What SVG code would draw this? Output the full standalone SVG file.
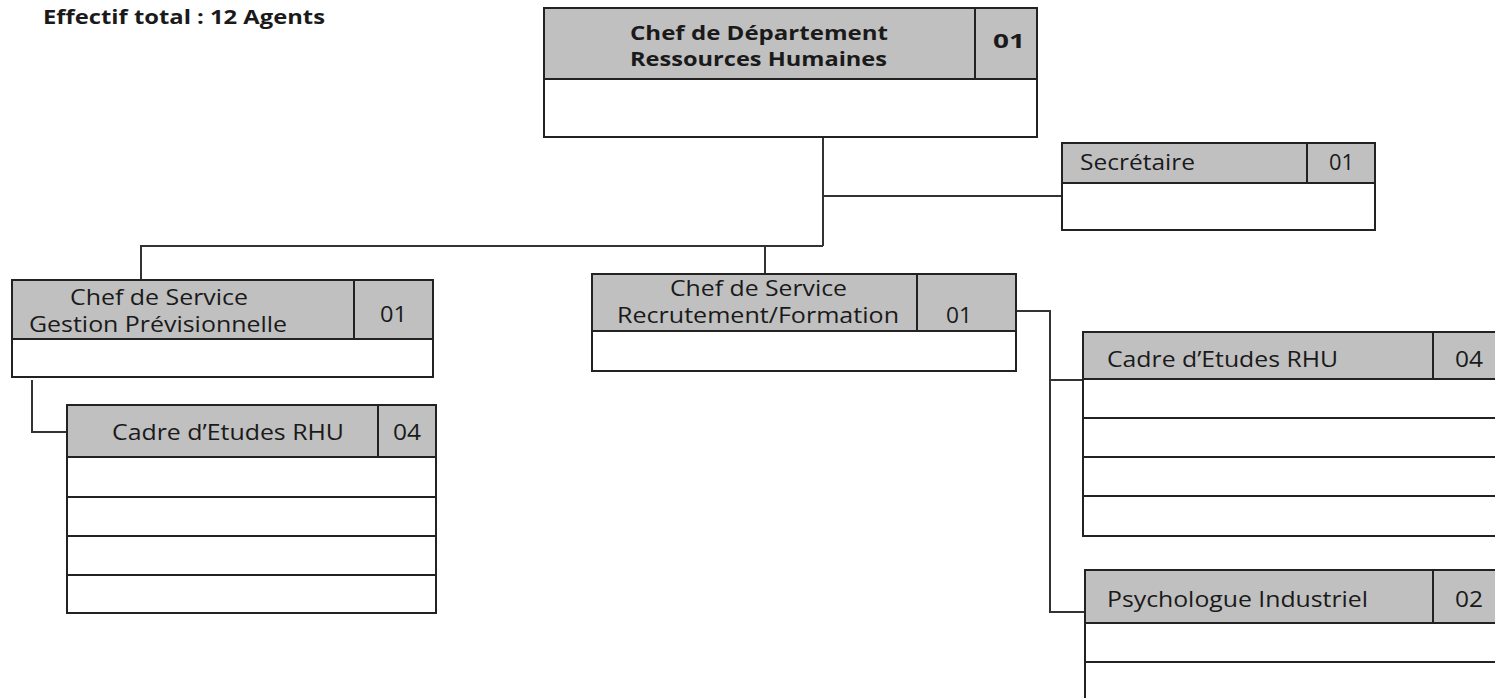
<svg xmlns="http://www.w3.org/2000/svg" width="1495" height="698" viewBox="0 0 1495 698">
  <style>
    .hd { fill: #c0c0c0; stroke: #222; stroke-width: 2; }
    .bx { fill: #ffffff; stroke: #222; stroke-width: 2; }
    .dv { stroke: #222; stroke-width: 2; }
    .cn { fill: none; stroke: #333; stroke-width: 2; }
    .t  { font-family: "Open Sans", "Liberation Sans", sans-serif; font-size: 21px; fill: #1a1a1a; }
    .tb { font-family: "Open Sans", "Liberation Sans", sans-serif; font-size: 20px; font-weight: bold; fill: #1a1a1a; }
    .n  { text-anchor: middle; }
  </style>
  <rect width="1495" height="698" fill="#ffffff"/>

  <text id="effectif" class="tb" x="43" y="24" font-size="17" textLength="282" lengthAdjust="spacingAndGlyphs">Effectif total : 12 Agents</text>

  <g id="connectors">
    <polyline class="cn" points="823,137 823,246"/>
    <polyline class="cn" points="823,196 1062,196"/>
    <polyline class="cn" points="141,281 141,246 823,246"/>
    <polyline class="cn" points="765,246 765,274"/>
    <polyline class="cn" points="32,380 32,432 67,432"/>
    <polyline class="cn" points="1016,311 1050,311 1050,612 1085,612"/>
    <polyline class="cn" points="1050,380 1083,380"/>
  </g>

  <g id="chef-departement">
    <rect class="bx" x="544" y="8" width="493" height="129"/>
    <rect class="hd" x="544" y="8" width="493" height="71"/>
    <line class="dv" x1="975" y1="8" x2="975" y2="79"/>
    <text class="tb" x="630" y="40" textLength="258" lengthAdjust="spacingAndGlyphs">Chef de Département</text>
    <text class="tb" x="630" y="66" textLength="257" lengthAdjust="spacingAndGlyphs">Ressources Humaines</text>
    <text class="tb" x="993" y="48" textLength="32" lengthAdjust="spacingAndGlyphs">01</text>
  </g>

  <g id="secretaire">
    <rect class="bx" x="1062" y="143" width="313" height="87"/>
    <rect class="hd" x="1062" y="143" width="313" height="40"/>
    <line class="dv" x1="1307" y1="143" x2="1307" y2="183"/>
    <text class="t" x="1080" y="170" textLength="115" lengthAdjust="spacingAndGlyphs">Secrétaire</text>
    <text class="t" x="1329" y="170" textLength="25" lengthAdjust="spacingAndGlyphs">01</text>
  </g>

  <g id="chef-gestion">
    <rect class="bx" x="12" y="280" width="421" height="97"/>
    <rect class="hd" x="12" y="280" width="421" height="59"/>
    <line class="dv" x1="354" y1="280" x2="354" y2="339"/>
    <text class="t" x="70" y="305" textLength="178" lengthAdjust="spacingAndGlyphs">Chef de Service</text>
    <text class="t" x="29" y="332" textLength="258" lengthAdjust="spacingAndGlyphs">Gestion Prévisionnelle</text>
    <text class="t" x="380" y="322" textLength="27" lengthAdjust="spacingAndGlyphs">01</text>
  </g>

  <g id="cadre-gestion">
    <rect class="bx" x="67" y="405" width="369" height="208"/>
    <rect class="hd" x="67" y="405" width="369" height="52"/>
    <line class="dv" x1="378" y1="405" x2="378" y2="457"/>
    <line class="dv" x1="67" y1="497" x2="436" y2="497"/>
    <line class="dv" x1="67" y1="536" x2="436" y2="536"/>
    <line class="dv" x1="67" y1="575" x2="436" y2="575"/>
    <text class="t" x="112" y="440" textLength="232" lengthAdjust="spacingAndGlyphs">Cadre d’Etudes RHU</text>
    <text class="t" x="393" y="440" textLength="28" lengthAdjust="spacingAndGlyphs">04</text>
  </g>

  <g id="chef-recrutement">
    <rect class="bx" x="592" y="274" width="424" height="97"/>
    <rect class="hd" x="592" y="274" width="424" height="57"/>
    <line class="dv" x1="917" y1="274" x2="917" y2="331"/>
    <text class="t" x="670" y="296" textLength="177" lengthAdjust="spacingAndGlyphs">Chef de Service</text>
    <text class="t" x="617" y="323" textLength="282" lengthAdjust="spacingAndGlyphs">Recrutement/Formation</text>
    <text class="t" x="946" y="323" textLength="26" lengthAdjust="spacingAndGlyphs">01</text>
  </g>

  <g id="cadre-recrutement">
    <rect class="bx" x="1083" y="332" width="420" height="204"/>
    <rect class="hd" x="1083" y="332" width="420" height="47"/>
    <line class="dv" x1="1433" y1="332" x2="1433" y2="379"/>
    <line class="dv" x1="1083" y1="418" x2="1503" y2="418"/>
    <line class="dv" x1="1083" y1="457" x2="1503" y2="457"/>
    <line class="dv" x1="1083" y1="496" x2="1503" y2="496"/>
    <text class="t" x="1107" y="367" textLength="231" lengthAdjust="spacingAndGlyphs">Cadre d’Etudes RHU</text>
    <text class="t" x="1455" y="367" textLength="28" lengthAdjust="spacingAndGlyphs">04</text>
  </g>

  <g id="psychologue">
    <rect class="bx" x="1085" y="570" width="420" height="140"/>
    <rect class="hd" x="1085" y="570" width="420" height="53"/>
    <line class="dv" x1="1433" y1="570" x2="1433" y2="623"/>
    <line class="dv" x1="1085" y1="662" x2="1505" y2="662"/>
    <text class="t" x="1107" y="607" textLength="261" lengthAdjust="spacingAndGlyphs">Psychologue Industriel</text>
    <text class="t" x="1455" y="607" textLength="28" lengthAdjust="spacingAndGlyphs">02</text>
  </g>
</svg>
